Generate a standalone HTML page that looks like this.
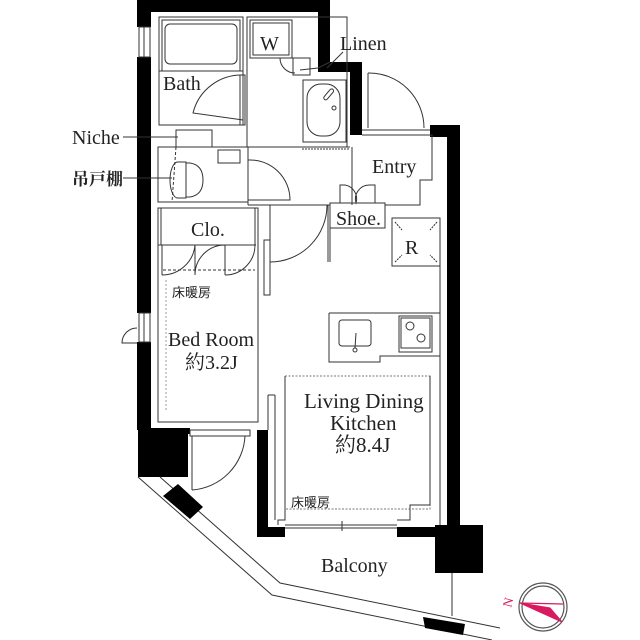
<!DOCTYPE html>
<html><head><meta charset="utf-8"><style>
html,body{margin:0;padding:0;background:#fff;width:640px;height:640px;overflow:hidden}
svg text{font-family:"Liberation Serif","Noto Serif CJK SC",serif;fill:#222}
.j{font-family:"Liberation Sans","Noto Sans CJK JP",sans-serif}
</style></head><body>
<svg width="640" height="640" viewBox="0 0 640 640" xmlns="http://www.w3.org/2000/svg">
<g fill="#000">
<rect x="137" y="0" width="14" height="27"/>
<rect x="137" y="57" width="14" height="256"/>
<rect x="137" y="342" width="14" height="88"/>
<rect x="137" y="0" width="193" height="12"/>
<rect x="318" y="0" width="12" height="70"/>
<rect x="318" y="62" width="42" height="10"/>
<rect x="350" y="62" width="12" height="73"/>
<rect x="430" y="125" width="30" height="12"/>
<rect x="447" y="125" width="13" height="400"/>
<rect x="435" y="525" width="48" height="48"/>
<rect x="397" y="527" width="40" height="10"/>
<rect x="138" y="428" width="50" height="49"/>
<rect x="138" y="428" width="52" height="6"/>
<rect x="257" y="430" width="11" height="107"/>
<rect x="257" y="527" width="28" height="10"/>
</g>
<g fill="none" stroke="#333" stroke-width="1">
<rect x="139" y="27" width="11" height="30"/><line x1="144" y1="27" x2="144" y2="57"/>
<rect x="139" y="313" width="11" height="29"/><line x1="144" y1="313" x2="144" y2="342"/>
<path d="M137 328 A15 15 0 0 0 122 343 L137 343"/>
<rect x="159" y="17" width="84" height="108"/>
<rect x="162" y="20" width="78" height="51"/>
<rect x="165" y="24" width="72" height="40" rx="5"/>
<line x1="159" y1="71" x2="243" y2="71"/>
<rect x="240" y="75" width="5" height="50"/>
<path d="M243 75 A50 50 0 0 0 193 113 L243 120"/>
<rect x="247" y="17" width="100" height="130"/>
<rect x="250" y="20" width="42" height="38"/><rect x="253" y="23" width="36" height="32"/>
<rect x="293" y="58" width="17" height="17"/>
<path d="M280 58 A15 15 0 0 0 295 73"/>
<line x1="300" y1="70" x2="318" y2="68"/><line x1="318" y1="68" x2="330" y2="62"/>
<rect x="303" y="80" width="43" height="62"/>
<rect x="307" y="84" width="33" height="52" rx="14"/>
<rect x="327" y="88" width="4" height="13" rx="2" transform="rotate(40 329 94)"/>
<circle cx="334" cy="108" r="2"/>
<line x1="247" y1="147" x2="350" y2="147"/>
<line x1="302" y1="149" x2="350" y2="149" stroke-dasharray="2 1"/>
<rect x="176" y="130" width="36" height="17"/>
<rect x="158" y="147" width="90" height="55"/>
<path d="M176 147 L172 202" stroke-dasharray="3 2"/>
<path d="M177 162 A8 18 0 0 0 170 180 A8 18 0 0 0 177 198 L186 198 L186 162 Z"/>
<path d="M186 163 L190 163 Q203 165 203 180 Q203 195 190 197 L186 197"/>
<rect x="218" y="150" width="22" height="13"/>
<line x1="248" y1="147" x2="248" y2="205"/>
<path d="M248 160 A40 40 0 0 1 290 200 L248 200"/>
<line x1="248" y1="205" x2="330" y2="205"/>
<path d="M270 205 L270 262"/>
<path d="M270 262 A57 57 0 0 0 327 205"/>
<rect x="264" y="240" width="6" height="55"/>
<path d="M362 135 L432 135 L432 180 L420 180 L420 205 L385 205"/>
<line x1="368" y1="73" x2="368" y2="128"/>
<path d="M368 73 A55 55 0 0 1 424 128"/>
<line x1="362" y1="130" x2="430" y2="130"/>
<line x1="352" y1="147" x2="352" y2="205"/>
<rect x="330" y="203" width="55" height="25"/>
<path d="M340 203 L340 185 L345 185 A14 14 0 0 1 356 203 A14 14 0 0 1 370 185 L375 185 L375 203"/>
<line x1="330" y1="228" x2="330" y2="262"/>
<line x1="328" y1="205" x2="328" y2="262"/>
<rect x="392" y="218" width="48" height="48"/>
<path d="M395 222 L402 230 M437 222 L430 230 M395 262 L402 255 M437 262 L430 255" stroke-dasharray="2 1"/>
<line x1="440" y1="218" x2="440" y2="525"/>
<path d="M329 313 L440 313 M329 313 L329 362 L380 362 L380 356 L440 356"/>
<rect x="339" y="320" width="32" height="26" rx="3"/>
<line x1="356" y1="333" x2="355" y2="348"/><circle cx="355" cy="350" r="2"/>
<rect x="399" y="316" width="33" height="36"/>
<rect x="401" y="318" width="29" height="30"/>
<circle cx="410" cy="326" r="4"/><circle cx="421" cy="338" r="4"/>
<rect x="285" y="376" width="145" height="133" stroke-dasharray="2 1.5" stroke="#777"/>
<path d="M285 376 L285 520 L278 520 L278 525 M430 376 L430 505 L410 505 L410 520 L397 520"/>
<line x1="285" y1="525" x2="397" y2="525"/><line x1="285" y1="528" x2="397" y2="528"/>
<line x1="342" y1="521" x2="342" y2="531"/>
<line x1="268" y1="395" x2="268" y2="430"/><line x1="275" y1="395" x2="275" y2="520"/>
<line x1="268" y1="395" x2="275" y2="395"/>
<rect x="158" y="208" width="100" height="214"/>
<rect x="161" y="208" width="94" height="37"/>
<path d="M158 245 L258 245 M163 270 L255 270" stroke-dasharray="3 2"/>
<path d="M162 245 L162 275 M195 245 L195 275 M225 245 L225 275 M162 275 A33 33 0 0 0 195 245 M195 275 A30 30 0 0 1 225 245 M225 275 A30 30 0 0 0 255 245"/>
<line x1="166" y1="280" x2="166" y2="410" stroke-dasharray="2 2" stroke="#999"/>
<rect x="190" y="430" width="60" height="6"/>
<line x1="192" y1="436" x2="192" y2="490"/>
<path d="M192 490 A57 57 0 0 0 245 436"/>
<path d="M138 477 L272 595 L492 640 M160 477 L280 583 L500 628"/>
<line x1="452" y1="573" x2="452" y2="616"/>
</g>
<g fill="#000">
<polygon points="163,496 178,484 203,507 190,519"/>
<polygon points="423,617 425,628 463,635 465,624"/>
</g>
<g stroke="#333" stroke-width="1">
<line x1="123" y1="137" x2="178" y2="137"/>
<line x1="123" y1="178" x2="172" y2="178"/>
<line x1="327" y1="68" x2="343" y2="52"/>
</g>
<g stroke="#d81b60" fill="none" stroke-width="1.2">
<circle cx="543" cy="607" r="24" stroke="#555"/>
<circle cx="543" cy="607" r="21" stroke="#555"/>
<path d="M520 603 L562 622 L550 608 Z" fill="#d81b60"/>
<line x1="520" y1="603" x2="563" y2="604"/>
</g>
<text x="501" y="605" font-size="13" style="fill:#d81b60" transform="rotate(-75 508 600)">N</text>
<text x="163" y="90" font-size="20">Bath</text>
<text x="260" y="50" font-size="20">W</text>
<text x="340" y="50" font-size="20">Linen</text>
<text x="72" y="144" font-size="20">Niche</text>
<text x="72" y="185" font-size="17" style="font-family:'Noto Serif CJK SC',serif;font-weight:bold">吊戸棚</text>
<text x="372" y="173" font-size="20">Entry</text>
<text x="336" y="225" font-size="20">Shoe.</text>
<text x="191" y="236" font-size="20">Clo.</text>
<text x="405" y="254" font-size="20">R</text>
<text x="172" y="297" font-size="13" class="j">床暖房</text>
<text x="168" y="346" font-size="20">Bed Room</text>
<text x="185" y="369" font-size="20">約3.2J</text>
<text x="304" y="408" font-size="21">Living Dining</text>
<text x="330" y="430" font-size="21">Kitchen</text>
<text x="335" y="452" font-size="21">約8.4J</text>
<text x="291" y="507" font-size="13" class="j">床暖房</text>
<text x="321" y="572" font-size="20">Balcony</text>
</svg>
</body></html>
